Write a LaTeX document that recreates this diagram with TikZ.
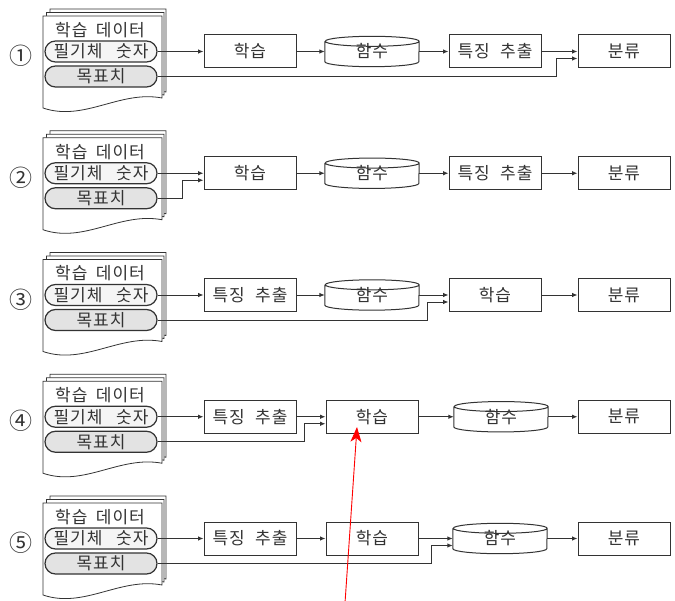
\documentclass[tikz,border=0pt]{standalone}
\usepackage{fontspec}
\setmainfont{Noto Sans CJK KR}
\newfontfamily\kr[LetterSpace=6]{Noto Sans CJK KR}
\newfontfamily\krnum{Noto Sans CJK KR}
\usetikzlibrary{arrows.meta,calc}
\definecolor{ink}{HTML}{333333}
\tikzset{
  ln/.style={draw=ink, line width=1pt},
  txt/.style={font=\kr\fontsize{17}{19}\selectfont, text=ink},
  stepbox/.style={ln, txt, rectangle, minimum width=92pt, minimum height=33pt, inner sep=0pt, fill=white},
  cylbox/.style={txt, rectangle, minimum width=94pt, minimum height=30pt, inner sep=0pt},
  pill/.style={ln, line width=1.2pt, txt, rounded corners=10.5pt, minimum width=112pt, minimum height=21pt, inner sep=0pt},
  page/.style={ln, line width=0.8pt, fill=white},
  arr/.style={ln, line width=0.9pt, -{Latex[length=5.5pt,width=4.5pt]}},
  numtxt/.style={font=\krnum\fontsize{23}{24}\selectfont, text=ink, inner sep=0pt},
  redarr/.style={draw=red, line width=0.9pt, -{Stealth[length=15pt,width=11pt,inset=4pt]}},
}
\newcommand\gap[1]{\hspace{#1em}}
\newcommand\cylout[1]{%
  \draw[ln] ($(#1.north west)+(0,-5)$) -- ($(#1.south west)+(0,5)$)
    arc[start angle=180,end angle=360,x radius=47pt,y radius=5pt]
    -- ($(#1.north east)+(0,-5)$)
    arc[start angle=0,end angle=360,x radius=47pt,y radius=5pt];}
\newcommand\docstack{%
  \draw[page] (50,-9) -- (166,-9) -- (166,-92) .. controls (124,-84) and (89,-116) .. (50,-101) -- cycle;
  \draw[page] (46.5,-12.5) -- (164,-12.5) -- (164,-95) .. controls (122,-87) and (86,-119) .. (46.5,-104.5) -- cycle;
  \draw[page] (43,-16) -- (162,-16) -- (162,-98) .. controls (120,-90) and (84,-122) .. (43,-108) -- cycle;}
\newcommand\leftpart[2]{%
  \docstack
  \node[numtxt] (n#1) at (21,-56) {#2};
  \node[txt] (t#1) at (100,-30) {학습\gap{0.5}데이터};
  \node[pill, fill=gray!8] (p#1a) at (101,-51.5) {필기체\gap{0.8}숫자};
  \node[pill, fill=gray!22] (p#1b) at (101,-76.5) {목표치};}
\newcommand\lowarr[2]{%
  \draw[arr] (#1.east) -| ($(#2.west)+(-21,-7)$) -- ($(#2.west)+(0,-7)$);}
\begin{document}
\begin{tikzpicture}[x=1pt,y=1pt]
\useasboundingbox[fill=white] (0,0) rectangle (675,-601);

% Row 1
\begin{scope}
\leftpart{1}{①}
\node[stepbox] (a1) at (250,-51.5) {학습};
\node[cylbox] (b1) at (372,-51.5) {\raisebox{-2pt}{함수}};
\cylout{b1}
\node[stepbox] (c1) at (495,-51.5) {특징\gap{0.6}추출};
\node[stepbox] (d1) at (624,-51.5) {분류};
\draw[arr] (p1a.east) -- (a1.west);
\draw[arr] (a1.east) -- (b1.west);
\draw[arr] (b1.east) -- (c1.west);
\draw[arr] (c1.east) -- (d1.west);
\lowarr{p1b}{d1}
\end{scope}

% Row 2
\begin{scope}[yshift=-121.75pt]
\leftpart{2}{②}
\node[stepbox] (a2) at (250,-51.5) {학습};
\node[cylbox] (b2) at (372,-51.5) {\raisebox{-2pt}{함수}};
\cylout{b2}
\node[stepbox] (c2) at (495,-51.5) {특징\gap{0.6}추출};
\node[stepbox] (d2) at (624,-51.5) {분류};
\draw[arr] (p2a.east) -- (a2.west);
\lowarr{p2b}{a2}
\draw[arr] (a2.east) -- (b2.west);
\draw[arr] (b2.east) -- (c2.west);
\draw[arr] (c2.east) -- (d2.west);
\end{scope}

% Row 3
\begin{scope}[yshift=-243.5pt]
\leftpart{3}{③}
\node[stepbox] (a3) at (250,-51.5) {특징\gap{0.6}추출};
\node[cylbox] (b3) at (372,-51.5) {\raisebox{-2pt}{함수}};
\cylout{b3}
\node[stepbox] (c3) at (495,-51.5) {학습};
\node[stepbox] (d3) at (624,-51.5) {분류};
\draw[arr] (p3a.east) -- (a3.west);
\draw[arr] (a3.east) -- (b3.west);
\draw[arr] (b3.east) -- (c3.west);
\lowarr{p3b}{c3}
\draw[arr] (c3.east) -- (d3.west);
\end{scope}

% Row 4
\begin{scope}[yshift=-365.25pt]
\leftpart{4}{④}
\node[stepbox] (a4) at (250,-51.5) {특징\gap{0.6}추출};
\node[stepbox] (b4) at (372,-51.5) {학습};
\node[cylbox] (c4) at (501,-51.5) {\raisebox{-2pt}{함수}};
\cylout{c4}
\node[stepbox] (d4) at (624,-51.5) {분류};
\draw[arr] (p4a.east) -- (a4.west);
\draw[arr] (a4.east) -- (b4.west);
\lowarr{p4b}{b4}
\draw[arr] (b4.east) -- (c4.west);
\draw[arr] (c4.east) -- (d4.west);
\end{scope}

% Row 5
\begin{scope}[yshift=-487pt]
\leftpart{5}{⑤}
\node[stepbox] (a5) at (250,-51.5) {특징\gap{0.6}추출};
\node[stepbox] (b5) at (372,-51.5) {학습};
\node[cylbox] (c5) at (500,-51.5) {\raisebox{-2pt}{함수}};
\cylout{c5}
\node[stepbox] (d5) at (624,-51.5) {분류};
\draw[arr] (p5a.east) -- (a5.west);
\draw[arr] (a5.east) -- (b5.west);
\draw[arr] (b5.east) -- (c5.west);
\lowarr{p5b}{c5}
\draw[arr] (c5.east) -- (d5.west);
\end{scope}

% red annotation arrow
\coordinate (rs) at (345,-603);
\coordinate (re) at (357,-427);
\draw[redarr] (rs) -- (re);
\end{tikzpicture}
\end{document}
